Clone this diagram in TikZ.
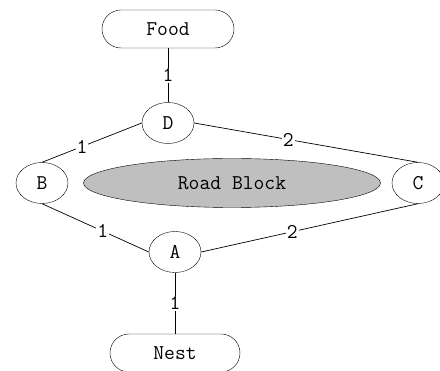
\documentclass[tikz,border=0pt]{standalone}
\usetikzlibrary{shapes.geometric,shapes.misc}
\begin{document}
\begin{tikzpicture}[x=1pt,y=-1pt,
  every node/.style={font=\ttfamily\fontsize{21}{24}\selectfont},
  term/.style={draw,rounded rectangle,minimum width=132pt,minimum height=38pt,inner sep=0pt},
  place/.style={draw,ellipse,minimum width=52pt,minimum height=41pt,inner sep=0pt},
  block/.style={draw,ellipse,fill=black!25,minimum width=297pt,minimum height=49pt,inner sep=0pt},
  lbl/.style={fill=white,inner sep=1pt},
  link/.style={draw,line width=0.7pt}]
\useasboundingbox (0,0) rectangle (440,371);
\begin{scope}
\clip (0,0) rectangle (440,371);
\node[term] (food) at (168,29) {Food};
\node[place] (d) at (168,123) {D};
\node[place] (b) at (42,183) {B};
\node[place] (c) at (418,183) {C};
\node[block] (rb) at (232,183) {Road Block};
\node[place] (a) at (175,252) {A};
\node[term,minimum width=130pt] (nest) at (175,353) {Nest};
\path[link] (food.south) -- node[lbl] {1} (d.north);
\path[link] (d.west) -- node[lbl,pos=0.6] {1} (b.north);
\path[link] (d.east) -- node[lbl,pos=0.42] {2} (c.north);
\path[link] (b.south) -- node[lbl,pos=0.57] {1} (a.west);
\path[link] (a.east) -- node[lbl,pos=0.42] {2} (c.south);
\path[link] (a.south) -- node[lbl] {1} (nest.north);
\end{scope}
\end{tikzpicture}
\end{document}
